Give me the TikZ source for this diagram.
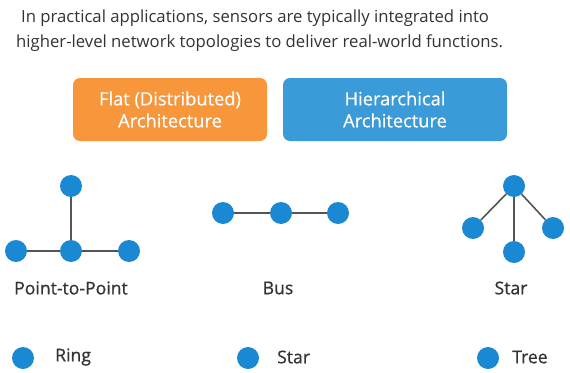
\documentclass[tikz,border=0pt]{standalone}
\usepackage{fontspec}
\setmainfont{Open Sans}
\newfontfamily\medfont[FakeBold=0.7]{Open Sans}
\newfontfamily\boxfont[FakeBold=0.35]{Open Sans}
\definecolor{txt}{HTML}{333333}
\definecolor{orangebox}{HTML}{F7963B}
\definecolor{bluebox}{HTML}{3B9BD8}
\definecolor{dotblue}{HTML}{1A88D3}
\definecolor{linegray}{HTML}{555555}
\begin{document}
\begin{tikzpicture}[x=1pt,y=-1pt,
  dot/.style={circle,fill=dotblue,inner sep=0pt,minimum size=22pt},
  link/.style={draw=linegray,line width=1.6pt},
  arch/.style={rounded corners=7pt,text=white,align=center,minimum height=63pt,
    font=\boxfont\fontsize{18.3}{22}\selectfont,inner sep=0pt},
  lbl/.style={text=txt,font=\medfont\fontsize{17.6}{20}\selectfont},
  legend/.style={text=txt,font=\medfont\fontsize{17.6}{20}\selectfont,anchor=west,inner sep=0pt},
  head/.style={text=txt,font=\fontsize{16.7}{20}\selectfont,anchor=west,inner sep=0pt}]
\useasboundingbox[fill=white] (0,0) rectangle (570,372);

% heading
\node[head] (h1) at (21,18) {In practical applications, sensors are typically integrated into};
\node[head] (h2) at (16,43) {higher-level network topologies to deliver real-world functions.};

% architecture boxes
\node[arch,fill=orangebox,minimum width=194pt] (flat) at (170,109.5) {Flat (Distributed)\\Architecture};
\node[arch,fill=bluebox,minimum width=224pt] (hier) at (395,109.5) {Hierarchical\\Architecture};

% point-to-point
\node[dot] (p1) at (71,186) {};
\node[dot] (p2) at (71,251) {};
\node[dot] (p3) at (16,251) {};
\node[dot] (p4) at (129,251) {};
\draw[link] (p1) -- (p2);
\draw[link] (p3) -- (p2);
\draw[link] (p2) -- (p4);
\node[lbl] (lp) at (71,288) {Point-to-Point};

% bus
\node[dot] (b1) at (223,213) {};
\node[dot] (b2) at (281,213) {};
\node[dot] (b3) at (338,213) {};
\draw[link] (b1) -- (b2);
\draw[link] (b2) -- (b3);
\node[lbl] (lb) at (278,288) {Bus};

% star
\node[dot] (s0) at (514,186) {};
\node[dot] (s1) at (473,228) {};
\node[dot] (s2) at (553,228) {};
\node[dot] (s3) at (514,252) {};
\draw[link] (s0) -- (s1);
\draw[link] (s0) -- (s2);
\draw[link] (s0) -- (s3);
\node[lbl] (ls) at (511,288) {Star};

% legend
\node[dot] (r0) at (23,358) {};
\node[legend] (r1) at (55,357) {Ring};
\node[dot] (t0) at (248,358) {};
\node[legend] (t1) at (277,357) {Star};
\node[dot] (e0) at (488,358) {};
\node[legend] (e1) at (512,357) {Tree};
\end{tikzpicture}
\end{document}
